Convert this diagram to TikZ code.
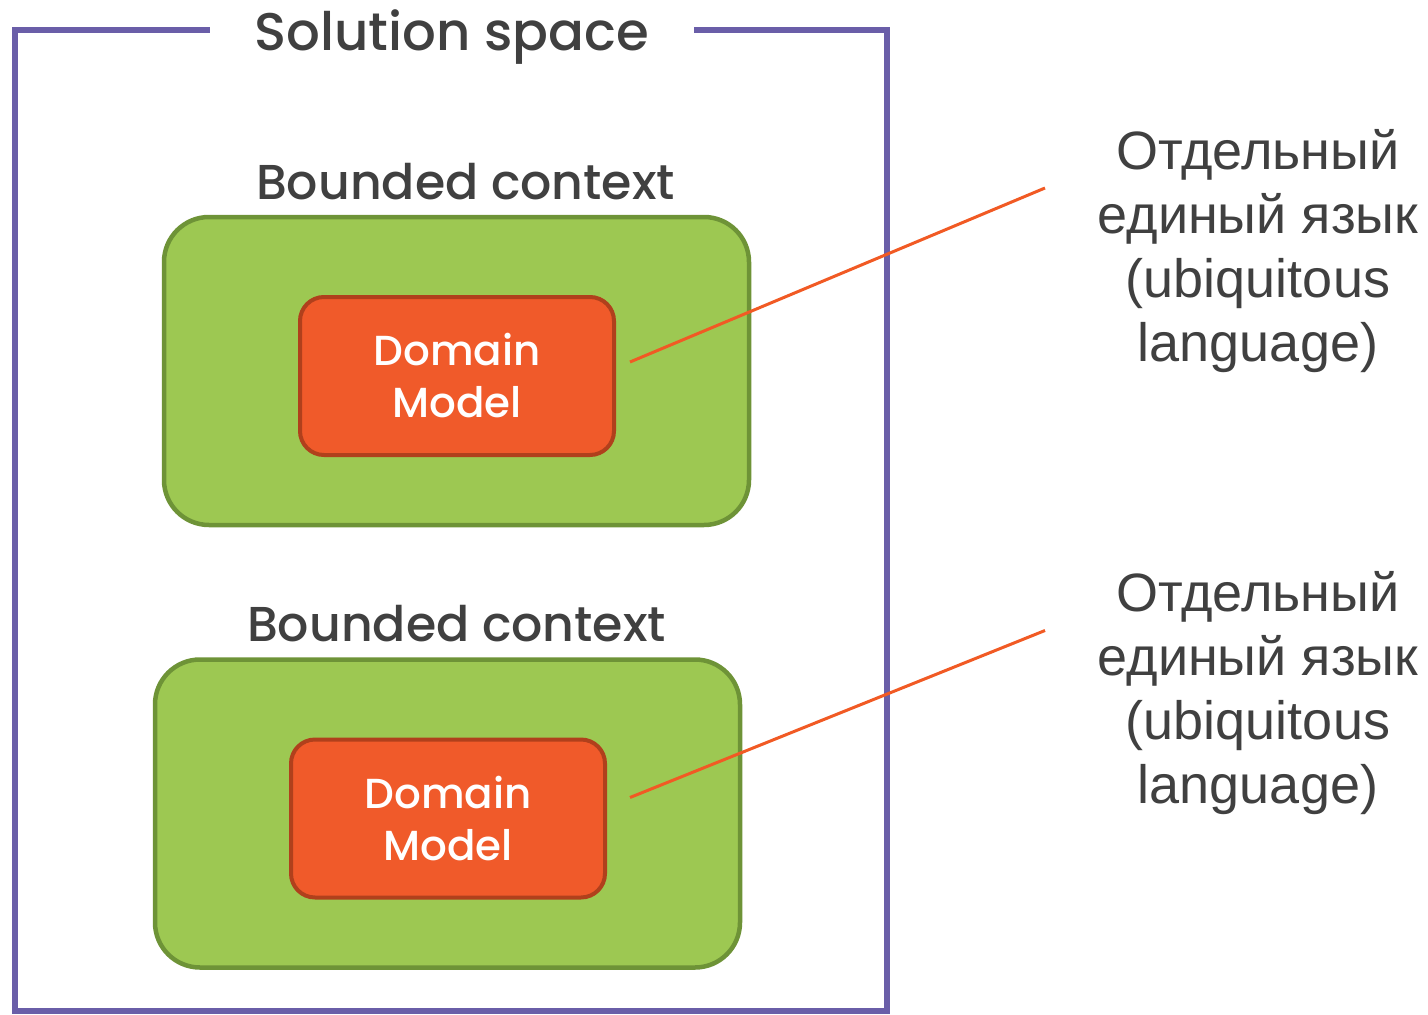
\documentclass[tikz,border=0pt]{standalone}
\usepackage{fontspec}
\setmainfont{Liberation Sans}
\newfontfamily\headfont{Poppins Medium}
\usetikzlibrary{positioning, calc}

\definecolor{framepurple}{HTML}{6A5EA8}
\definecolor{ctxgreen}{HTML}{9DC852}
\definecolor{ctxedge}{HTML}{6E9337}
\definecolor{modelorange}{HTML}{F05A2A}
\definecolor{modeledge}{HTML}{B0401C}
\definecolor{textgray}{HTML}{404040}
\definecolor{leadorange}{HTML}{F15A24}

\begin{document}
\begin{tikzpicture}[x=1pt, y=-1pt,
  ctxbox/.style={draw=ctxedge, fill=ctxgreen, line width=4.5pt, rounded corners=45pt,
    minimum width=585pt, minimum height=308pt},
  modelbox/.style={draw=modeledge, fill=modelorange, line width=4pt, rounded corners=24pt,
    minimum width=314pt, minimum height=158pt, align=center, text=white,
    font=\headfont\fontsize{42}{52}\selectfont},
  ctxlabel/.style={inner sep=0pt, text=textgray, font=\headfont\fontsize{49}{60}\selectfont},
  langlabel/.style={inner sep=0pt, align=center, text=textgray,
    font=\fontsize{54}{64}\selectfont},
  leader/.style={draw=leadorange, line width=3pt}]
\useasboundingbox (0,0) rectangle (1428,1015);

% outer frame, open at the top for its title
\node[inner xsep=45pt, inner ysep=0pt, anchor=base, text=textgray,
  font=\headfont\fontsize{53}{60}\selectfont] (title) at (452,50) {Solution space};
\draw[framepurple, line width=6pt]
  (title.west |- 0,30) -- (15,30) -- (15,1011) -- (887,1011) -- (887,30) -- (title.east |- 0,30);

% two bounded contexts, each with its own language
\foreach \i/\x/\y/\lx/\ly in {1/456.5/371/14/-14, 2/447.5/813.5/23/-21} {
  \node[ctxbox] (ctx\i) at (\x,\y) {};
  \node[modelbox] (model\i) at ($(ctx\i)+(0.5,5)$) {Domain\\Model};
  \node[ctxlabel, above=15pt of ctx\i, xshift=9pt] (ctxname\i) {Bounded context};
  \node[langlabel, anchor=north] (lang\i) at (1258,{\y-242})
    {Отдельный\\единый язык\\(ubiquitous\\language)};
  \coordinate (tip\i) at (1045,{\y-183});
  \draw[leader] ($(model\i.east)+(\lx,\ly)$) -- (tip\i);
}
\end{tikzpicture}
\end{document}
